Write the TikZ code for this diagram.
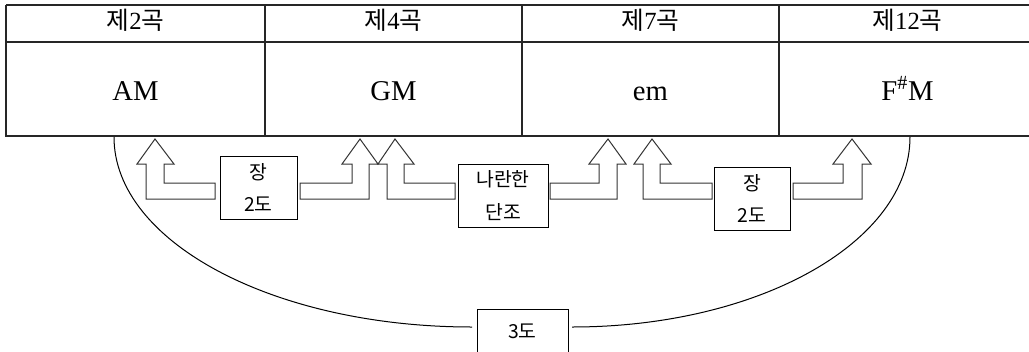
\documentclass[tikz,border=0pt]{standalone}
\usepackage{fontspec}
\setmainfont{Liberation Serif}
\newfontfamily\kr{Noto Sans CJK KR}
\begin{document}
\begin{tikzpicture}[x=0.75pt,y=-0.75pt,
  tline/.style={draw=black!85, line width=0.8pt},
  tthick/.style={draw=black!85, line width=1.5pt},
  blockarrow/.style={draw=black!80, line width=0.75pt, fill=white, line join=miter},
  smallbox/.style={draw, line width=0.75pt, inner sep=0pt, align=center,
    minimum height=47.25pt, font=\fontsize{14.5}{24.5}\selectfont\kr},
  head/.style={anchor=base, font=\fontsize{18.5}{20}\selectfont},
  key/.style={anchor=base, font=\fontsize{21.5}{24}\selectfont},
  curve/.style={draw=black, line width=0.75pt}
]
\useasboundingbox (0,0) rectangle (1029,351);
% table
\draw[tline] (6,5) -- (1036,5);
\draw[tline] (6,42) -- (1036,42);
\draw[tline] (265,5) -- (265,136);
\draw[tline] (522,5) -- (522,136);
\draw[tline] (779,5) -- (779,136);
\draw[tthick] (6,4.5) -- (6,136.5);
\draw[tthick] (6,136) -- (1036,136);
\node[head] (h1) at (135.5,29) {{\kr 제}2{\kr 곡}};
\node[head] (h2) at (393.5,29) {{\kr 제}4{\kr 곡}};
\node[head] (h3) at (650.5,29) {{\kr 제}7{\kr 곡}};
\node[head] (h4) at (907.5,29) {{\kr 제}12{\kr 곡}};
\node[key] (k1) at (135.5,100) {AM};
\node[key] (k2) at (393.5,100) {GM};
\node[key] (k3) at (650.5,100) {em};
\node[key] (k4) at (907.5,100) {F$^{\#}$M};
% interval boxes
\node[smallbox, minimum width=57.75pt] (b1) at (258.5,187.5) {장\\2도};
\node[smallbox, minimum width=67.5pt] (b2) at (503,195.5) {나란한\\단조};
\node[smallbox, minimum width=57pt] (b3) at (752,198.5) {장\\2도};
% block arrows
\draw[blockarrow] (215,183) -- (164,183) -- (164,164) -- (174,164) -- (155,139) -- (137,164) -- (146,164) -- (146,199) -- (215,199) -- cycle;
\draw[blockarrow] (300,183) -- (352,183) -- (352,164) -- (342,164) -- (360,139) -- (378,164) -- (369,164) -- (369,199) -- (300,199) -- cycle;
\draw[blockarrow] (455,183) -- (404,183) -- (404,164) -- (414,164) -- (395,139) -- (378,164) -- (387,164) -- (387,199) -- (455,199) -- cycle;
\draw[blockarrow] (550,183) -- (599,183) -- (599,164) -- (589,164) -- (608,139) -- (626,164) -- (617,164) -- (617,199) -- (550,199) -- cycle;
\draw[blockarrow] (712,183) -- (660,183) -- (660,164) -- (671,164) -- (652,139) -- (634,164) -- (643,164) -- (643,199) -- (712,199) -- cycle;
\draw[blockarrow] (793,183) -- (843,183) -- (843,164) -- (833,164) -- (852,139) -- (871,164) -- (862,164) -- (862,199) -- (793,199) -- cycle;
% third box (runs off the bottom)
\draw[line width=0.75pt] (477,370) -- (477,309) -- (568,309) -- (568,370);
\node[font=\fontsize{14.5}{16}\selectfont\kr] (t3) at (522.5,331) {3도};
\coordinate (cl) at (114,137);
\coordinate (cr) at (910,137);
\coordinate (el) at (472,327);
\coordinate (er) at (572,327);
\draw[curve] (cl) .. controls (114,242) and (274,327) .. (el);
\draw[curve] (cr) .. controls (910,242) and (759,327) .. (er);
\end{tikzpicture}
\end{document}
